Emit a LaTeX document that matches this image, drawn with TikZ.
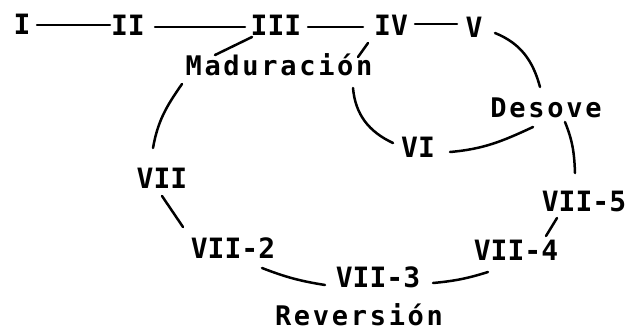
\documentclass[tikz,border=0pt]{standalone}
\usepackage{fontspec}
\newfontfamily\numfont{DejaVu Sans Mono Bold}
\newfontfamily\wordfont[LetterSpace=10]{DejaVu Sans Mono Bold}
\begin{document}
\begin{tikzpicture}[x=1pt,y=-1pt,
  stage/.style={anchor=base,inner sep=0pt,font=\numfont\fontsize{28}{30}\selectfont},
  phase/.style={anchor=base,inner sep=0pt,font=\wordfont\fontsize{27}{29}\selectfont},
  link/.style={line width=2.5pt,line cap=round}]
\useasboundingbox (0,0) rectangle (635,330);

% stages of the cycle
\node[stage] (n1)  at (22,34)   {I};
\node[stage] (n2)  at (128,35)  {II};
\node[stage] (n3)  at (276,35)  {III};
\node[stage] (n4)  at (391,35)  {IV};
\node[stage] (n5)  at (474,37)  {V};
\node[stage] (n6)  at (418,157) {VI};
\node[stage] (n7)  at (162,188) {VII};
\node[stage] (n75) at (584,211) {VII-5};
\node[stage] (n74) at (516,260) {VII-4};
\node[stage] (n72) at (233,258) {VII-2};
\node[stage] (n73) at (378,287) {VII-3};

% phases
\node[phase] (mad) at (279,75)  {Maduración};
\node[phase] (des) at (546,117) {Desove};
\node[phase] (rev) at (359,325) {Reversión};

% top row
\draw[link] ([shift={(15,-9)}]n1.base)  -- ([shift={(-18,-10)}]n2.base);
\draw[link] ([shift={(27,-8)}]n2.base)  -- ([shift={(-31,-8)}]n3.base);
\draw[link] ([shift={(32,-8)}]n3.base)  -- ([shift={(-28,-8)}]n4.base);
\draw[link] ([shift={(24,-11)}]n4.base) -- ([shift={(-17,-13)}]n5.base);

% into maturation
\draw[link] ([shift={(-24,2)}]n3.base) -- ([shift={(-64,-20)}]mad.base);
\draw[link] ([shift={(-23,8)}]n4.base) -- ([shift={(79,-18)}]mad.base);

% spawning loop
\draw[link] ([shift={(21,-4)}]n5.base) to[out=-22,in=105] ([shift={(-6,-30)}]des.base);
\draw[link] ([shift={(74,13)}]mad.base) to[out=-85,in=155] ([shift={(-25,-14)}]n6.base);
\draw[link] ([shift={(32,-5)}]n6.base) to[out=5,in=205] ([shift={(-13,10)}]des.base);
\draw[link] ([shift={(19,5)}]des.base) to[out=-68,in=92] ([shift={(-9,-38)}]n75.base);

% reversion loop
\draw[link] ([shift={(-97,9)}]mad.base) to[out=-125,in=80] ([shift={(-9,-40)}]n7.base);
\draw[link] ([shift={(0,8)}]n7.base) -- ([shift={(-50,-31)}]n72.base);
\draw[link] ([shift={(29,10)}]n72.base) to[bend right=6] ([shift={(-53,-2)}]n73.base);
\draw[link] ([shift={(55,-4)}]n73.base) to[bend right=6] ([shift={(-28,12)}]n74.base);
\draw[link] ([shift={(-27,7)}]n75.base) -- ([shift={(30,-24)}]n74.base);
\end{tikzpicture}
\end{document}
